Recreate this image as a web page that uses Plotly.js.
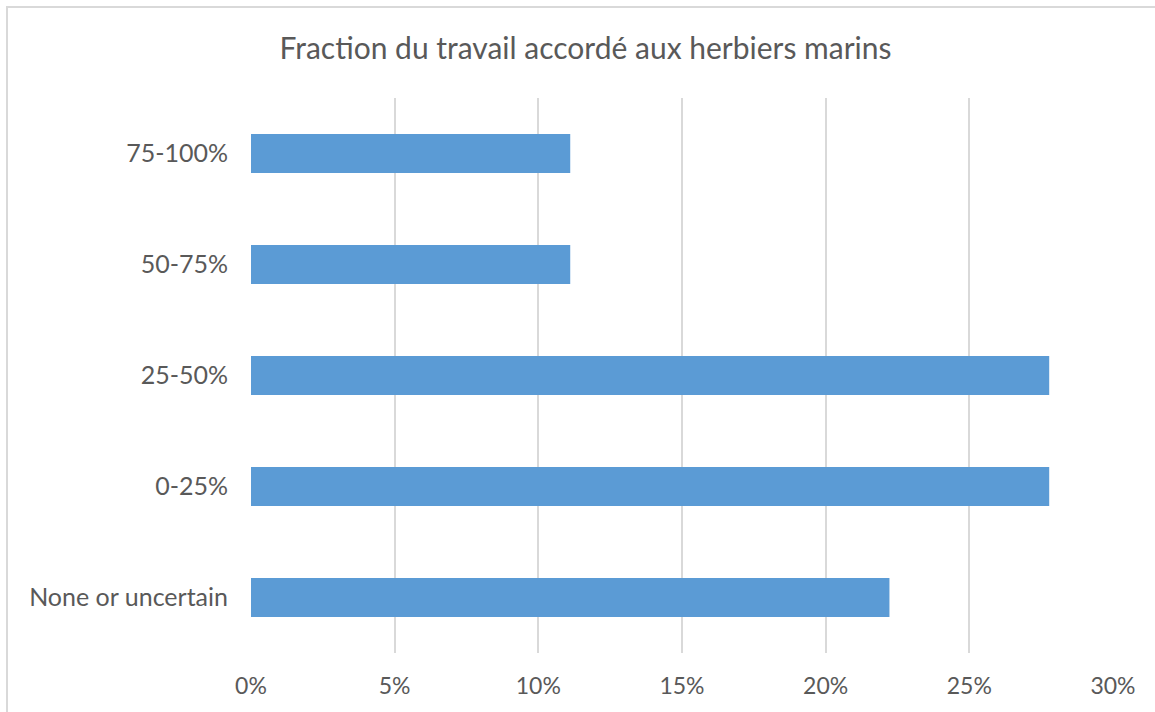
<!DOCTYPE html>
<html>
<head>
<meta charset="utf-8">
<script src="https://cdn.plot.ly/plotly-3.0.1.min.js"></script>
<style>
  html, body { margin: 0; padding: 0; background: #ffffff; }
  #chart { width: 1155px; height: 712px; }
  #frame { position: absolute; left: 6px; top: 6px; width: 1160px; height: 720px;
           border: 2px solid #d9d9d9; box-sizing: border-box; pointer-events: none; }
</style>
</head>
<body>
<div id="chart"></div>
<div id="frame"></div>
<script>
const categories = ["None or uncertain", "0-25%", "25-50%", "50-75%", "75-100%"];
const values = [0.2222, 0.2778, 0.2778, 0.1111, 0.1111];
const tickVals = [0, 0.05, 0.10, 0.15, 0.20, 0.25, 0.30];
const tickText = ["0%", "5%", "10%", "15%", "20%", "25%", "30%"];
const chartTitle = "Fraction du travail accordé aux herbiers marins";

const fontFamily = "'Gill Sans MT', 'Gill Sans', Lato, 'Open Sans', sans-serif";
const textColor = "#595959";

const trace = {
  type: "bar",
  orientation: "h",
  x: values,
  y: categories,
  marker: { color: "#5b9bd5" },
  hoverinfo: "x+y"
};

const layout = {
  width: 1155,
  height: 712,
  margin: { l: 251, r: 42, t: 98, b: 59 },
  paper_bgcolor: "#ffffff",
  plot_bgcolor: "#ffffff",
  bargap: 0.65,
  showlegend: false,
  title: {
    text: chartTitle,
    font: { family: fontFamily, size: 30, color: textColor },
    x: 0.507,
    xanchor: "center",
    y: 0.932,
    yanchor: "middle"
  },
  xaxis: {
    range: [0, 0.30],
    tickvals: tickVals,
    ticktext: tickText,
    showgrid: true,
    gridcolor: "#d9d9d9",
    gridwidth: 2,
    zeroline: false,
    showline: false,
    ticks: "outside",
    ticklen: 12,
    tickcolor: "rgba(0,0,0,0)",
    tickfont: { family: fontFamily, size: 23, color: textColor },
    fixedrange: true
  },
  yaxis: {
    categoryorder: "array",
    categoryarray: categories,
    showgrid: false,
    zeroline: false,
    showline: false,
    ticks: "outside",
    ticklen: 17,
    tickcolor: "rgba(0,0,0,0)",
    tickfont: { family: fontFamily, size: 25, color: textColor },
    fixedrange: true
  }
};

Plotly.newPlot("chart", [trace], layout, { displayModeBar: false, staticPlot: true });
</script>
</body>
</html>
